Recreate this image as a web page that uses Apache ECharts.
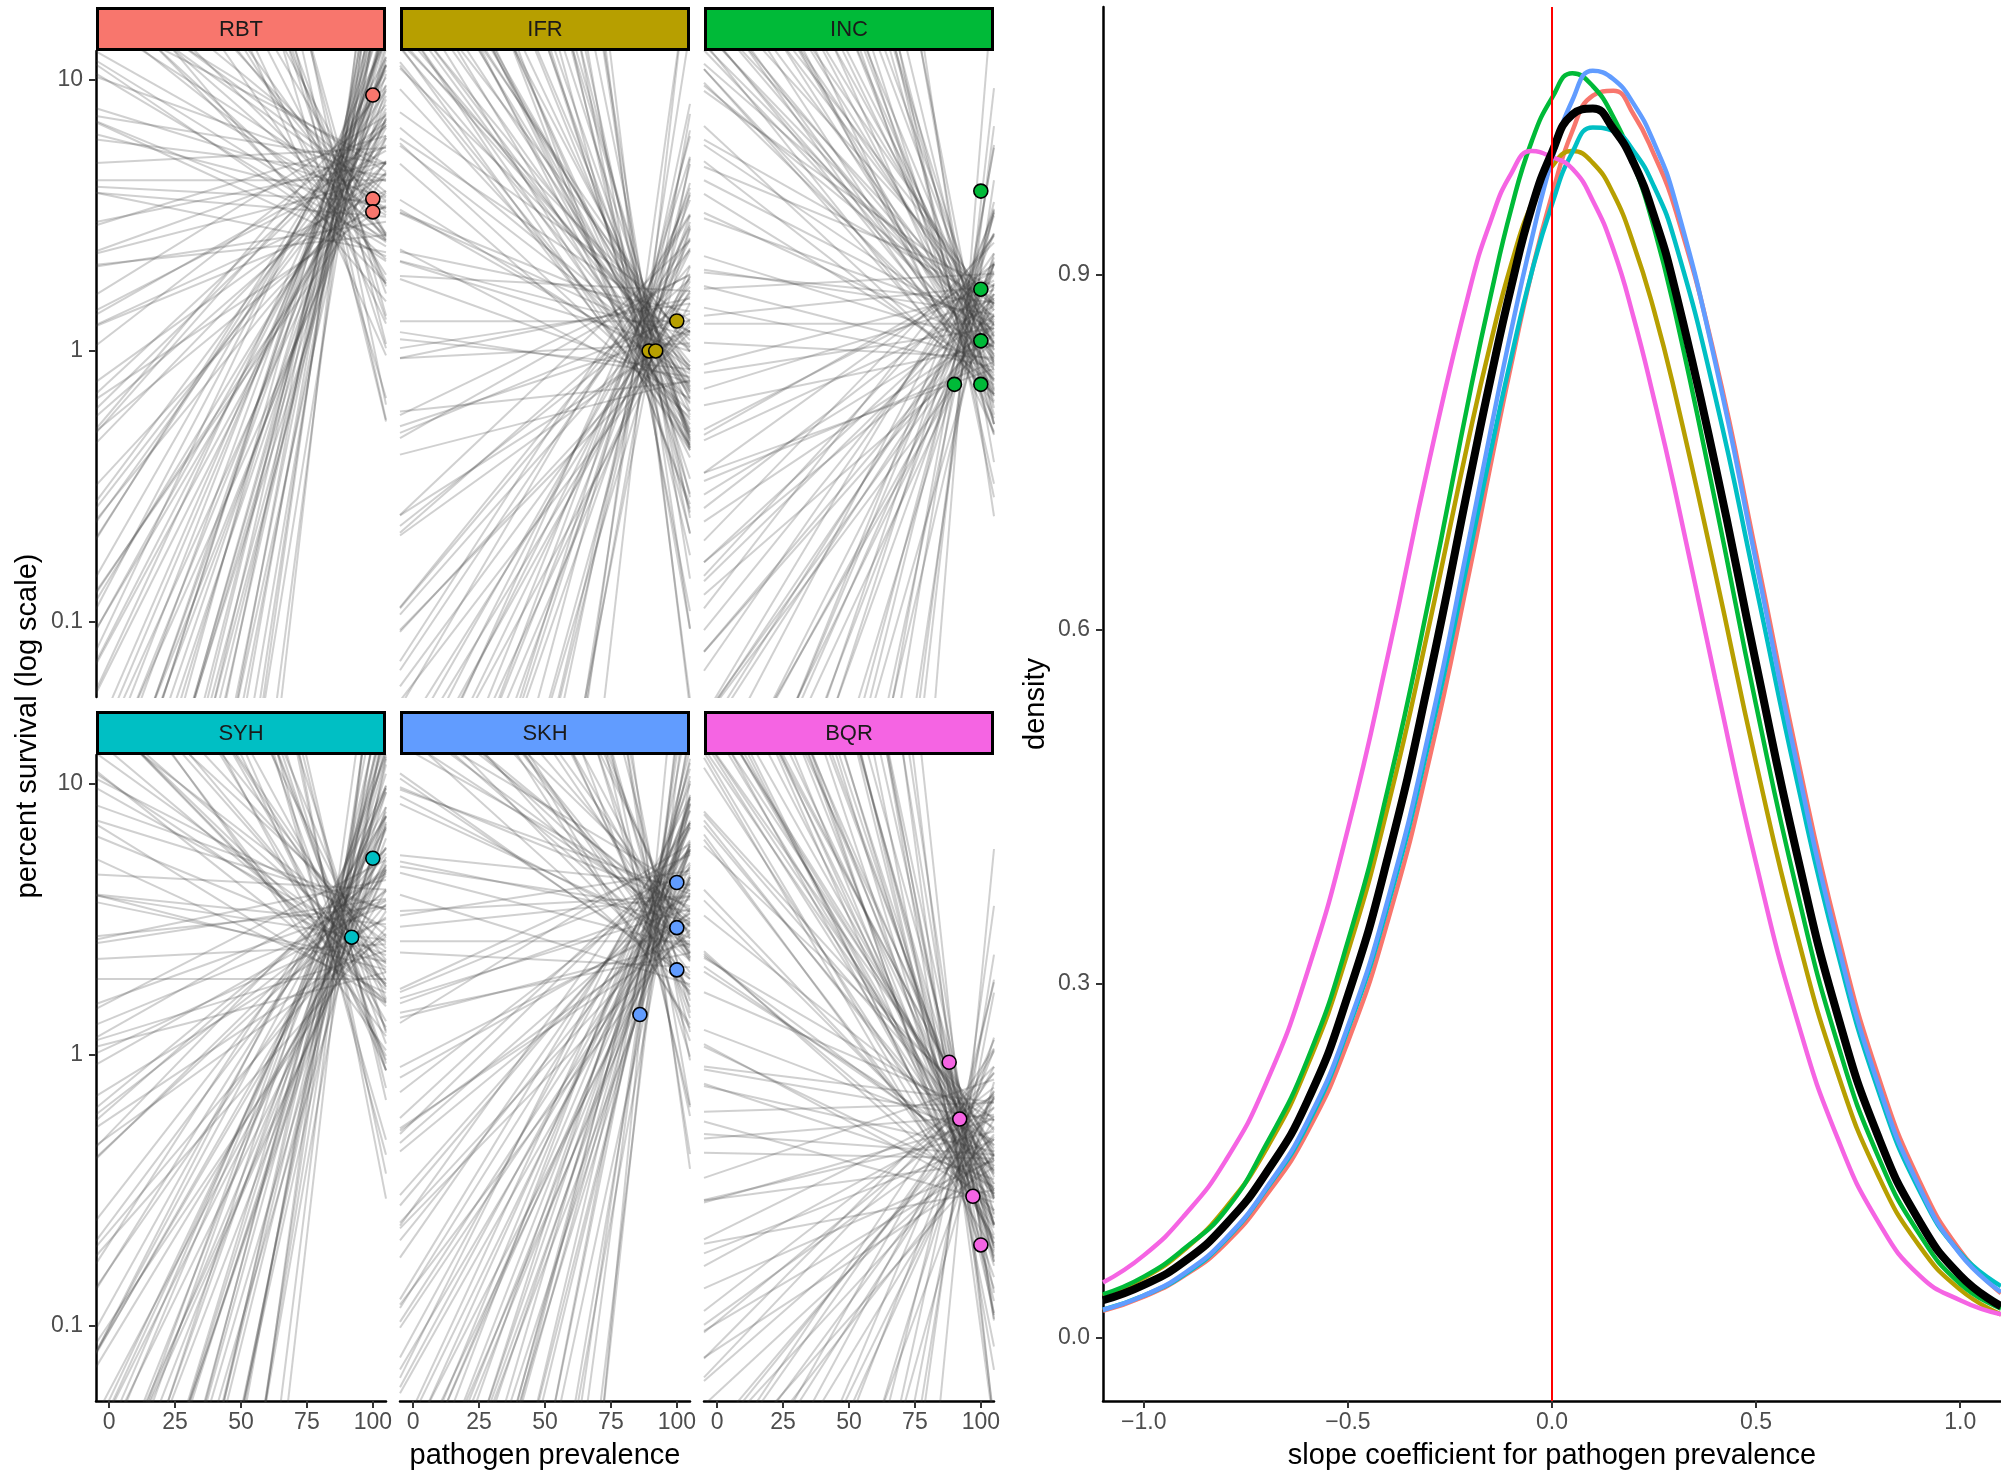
<!DOCTYPE html>
<html><head><meta charset="utf-8">
<script src="https://cdn.jsdelivr.net/npm/echarts@6/dist/echarts.min.js"></script>
<style>html,body{margin:0;padding:0;background:#fff}#c{width:2001px;height:1474px}</style>
</head><body><div id="c"></div>
<script>
// ---------------- data ----------------
const facetNames = ['RBT','IFR','INC','SYH','SKH','BQR'];
const facetColors = ['#F8766D','#B79F00','#00BA38','#00BFC4','#619CFF','#F564E3'];
const prevTicks = [0,25,50,75,100];
const survTicks = [0.1,1,10];
const slopeTicks = [-1,-0.5,0,0.5,1];
const densTicks = [0,0.3,0.6,0.9];

// prevalence at which each facet's posterior lines converge
const lineCenters = [87, 88, 95, 87, 92, 93];

// posterior regression lines: slope (log10 survival per 100 % prevalence) and level (log10 survival at the centre)
const rbtSlope = [-4.6,-4.0,-3.5,-3.0,-2.6,-2.2,-1.9,-1.65,-1.4,-1.2,-1.0,-0.85,-0.72,-0.6,
 -0.5,-0.4,-0.3,-0.2,-0.12,-0.05,0.05,0.15,0.25,0.35,0.45,0.55,0.65,0.75,0.85,0.95,1.05,1.15,1.25,1.35,1.45,1.55,1.65,1.75,1.85,1.95,
 2.1,2.2,2.3,2.4,2.5,2.6,2.7,2.8,2.9,3.0,3.1,3.2,3.35,3.5,3.65,3.8,4.0,4.2,4.5,4.8,5.2,5.7,6.4,7.5,
 -4.3,-3.8,-3.3,-2.8,-2.4,-2.05,-1.78,-1.55,-1.35,-1.15,-1.05,-0.95,-0.9,-0.8,-0.77,-0.7,-0.66,-0.63,-0.6,-0.58,
 -0.55,-0.45,-0.35,-0.25,-0.16,-0.08,0.0,0.1,0.2,0.3,0.4,0.5,0.6,0.7,0.8,0.9,1.0,1.1,1.2,1.3,1.4,1.5,1.6,1.7,1.8,1.9,
 2.05,2.15,2.25,2.45,2.65,2.85,3.05,3.25,3.45,3.7,3.95,4.3,4.7,5.0,5.5,6.0,6.8,8.5];
const rbtLevel = [0.63,0.46,0.76,0.55,0.68,0.38,0.60,0.72,0.50,0.65,0.43,0.58,0.70,0.52,0.78,0.48,
 0.62,0.40,0.67,0.56,0.74,0.45,0.59,0.69,0.51,0.64,0.42,0.71,0.54,0.66,0.47,0.77,
 0.57,0.61,0.44,0.73,0.49,0.58,0.75,0.53,0.68,0.39,0.64,0.55,0.70,0.46,0.60,0.67,
 0.50,0.72,0.41,0.63,0.56,0.76,0.48,0.65,0.52,0.69,0.43,0.59,0.71,0.54,0.62,0.47,
 0.52,0.71,0.42,0.62,0.67,0.47,0.75,0.56,0.65,0.39,0.70,0.59,0.50,0.73,0.54,0.68,
 0.45,0.64,0.77,0.49,0.60,0.43,0.69,0.57,0.72,0.51,0.63,0.41,0.66,0.74,0.46,0.61,
 0.76,0.53,0.44,0.67,0.58,0.71,0.48,0.64,0.40,0.69,0.55,0.73,0.50,0.60,0.78,0.47,
 0.65,0.42,0.70,0.54,0.75,0.49,0.61,0.45,0.68,0.57,0.72,0.52,0.63,0.39,0.66,0.56];

const ifrSlope = [-8.0,-6.5,-5.5,-4.8,-4.2,-3.8,-3.4,-3.1,-2.8,-2.6,-2.4,-2.2,-2.05,-1.9,-1.8,-1.7,-1.6,-1.52,-1.45,-1.38,-1.32,-1.26,-1.2,-1.15,
 -1.05,-0.95,-0.85,-0.75,-0.65,-0.55,-0.45,-0.35,-0.25,-0.15,-0.05,0.05,0.15,0.25,0.4,0.55,0.7,0.85,1.0,1.1,1.2,1.32,
 1.5,1.6,1.7,1.8,1.9,2.0,2.15,2.3,2.45,2.6,2.8,3.0,3.3,3.6,4.0,4.6,5.5,7.0,
 -7.5,-6.0,-5.0,-4.5,-4.0,-3.6,-3.25,-2.95,-2.7,-2.5,-2.3,-2.12,-1.98,-1.85,-1.75,-1.65,-1.56,-1.48,-1.42,-1.36,-1.3,-1.24,-1.19,-1.16,-3.0,-2.0,-1.6,-1.34,
 -1.1,-1.0,-0.9,-0.8,-0.7,-0.6,-0.5,-0.4,-0.3,-0.2,-0.1,0.0,0.1,0.2,0.32,0.47,0.62,0.77,0.92,1.05,1.15,1.27,
 1.45,1.55,1.65,1.75,1.95,2.1,2.4,2.7,3.1,3.5,4.2,5.0,6.2,8.5];
const ifrLevel = [0.04,0.08,-0.09,0.20,-0.04,0.05,0.22,0.00,0.15,-0.14,0.11,0.02,0.17,-0.07,0.07,0.14,
 -0.03,0.19,-0.12,0.10,0.03,0.23,-0.05,0.12,-0.01,0.16,-0.10,0.06,0.18,0.01,0.09,-0.06,
 0.10,-0.07,0.23,0.02,0.15,-0.15,0.07,0.19,-0.03,0.12,-0.10,0.05,0.17,-0.01,0.25,-0.05,
 0.09,-0.13,0.14,0.03,0.21,-0.08,0.06,0.16,-0.02,0.11,-0.11,0.18,0.01,0.13,-0.06,0.24,
 -0.01,0.18,-0.11,0.09,0.14,-0.06,0.22,0.03,0.12,-0.14,0.17,0.06,-0.03,0.20,0.01,0.15,
 -0.08,0.11,0.24,-0.04,0.07,-0.10,0.16,0.04,0.19,-0.02,0.10,-0.12,0.13,0.21,-0.07,0.08,
 0.23,0.00,-0.09,0.14,0.05,0.18,-0.05,0.11,-0.13,0.16,0.02,0.20,-0.03,0.07,0.25,-0.06,
 0.12,-0.11,0.17,0.01,0.22,-0.04,0.08,-0.08,0.15,0.04,0.19,-0.01,0.10,-0.14,0.13,0.03];

const incSlope = [-5.5,-4.6,-4.0,-3.5,-3.1,-2.8,-2.55,-2.35,-2.15,-2.0,-1.88,-1.76,-1.65,-1.56,-1.48,-1.4,-1.33,-1.27,-1.21,-1.16,-1.11,-1.07,-1.04,-1.01,
 -0.95,-0.85,-0.75,-0.65,-0.55,-0.45,-0.35,-0.25,-0.15,-0.05,0.05,0.15,0.25,0.35,0.45,0.55,0.65,0.75,0.85,0.95,1.05,1.15,1.25,1.35,
 1.45,1.55,1.7,1.85,2.0,2.2,2.4,2.7,3.0,3.4,3.9,4.5,5.3,6.5,8.5,12.0,
 -6.5,-5.0,-4.3,-3.75,-3.3,-2.95,-2.68,-2.45,-2.25,-2.08,-1.94,-1.82,-1.7,-1.6,-1.52,-1.44,-1.37,-1.3,-1.24,-1.19,-1.14,-1.09,-1.05,-1.02,-2.6,-3.0,
 -0.98,-0.9,-0.8,-0.7,-0.6,-0.5,-0.4,-0.3,-0.2,-0.1,0.0,0.1,0.2,0.3,0.4,0.5,0.6,0.7,0.8,0.9,1.0,1.1,1.2,1.3,
 1.4,1.5,1.62,1.78,1.92,2.1,2.3,2.55,2.85,3.2,3.65,4.2,5.8,7.5];
const incLevel = [0.14,-0.08,0.19,0.08,0.26,-0.03,0.11,0.21,0.03,0.16,-0.06,0.23,0.06,0.18,-0.01,0.29,
 0.02,0.24,-0.07,0.15,0.08,0.28,0.00,0.17,0.04,0.21,-0.05,0.11,0.23,0.06,0.14,-0.01,
 0.15,-0.02,0.28,0.07,0.20,-0.10,0.12,0.24,0.02,0.17,-0.05,0.10,0.22,0.04,0.30,0.00,
 0.09,0.13,-0.04,0.25,0.01,0.10,0.27,0.05,0.20,-0.09,0.16,0.07,0.22,-0.02,0.12,0.19,
 0.04,0.23,-0.06,0.14,0.19,-0.01,0.27,0.08,0.17,-0.09,0.22,0.11,0.02,0.25,0.06,0.20,
 -0.03,0.16,0.29,0.01,0.12,-0.05,0.21,0.09,0.24,0.03,0.15,-0.07,0.18,0.26,-0.02,0.13,
 0.28,0.05,-0.04,0.19,0.10,0.23,0.00,0.16,-0.08,0.21,0.07,0.25,0.02,0.12,0.30,-0.01,
 0.17,-0.06,0.22,0.06,0.27,0.01,0.13,-0.03,0.20,0.09,0.24,0.04,0.15,-0.09,0.18,0.08];

const syhSlope = [-5.0,-4.2,-3.6,-3.1,-2.7,-2.35,-2.05,-1.8,-1.6,-1.42,-1.28,-1.15,-1.04,-0.94,-0.85,-0.77,
 -0.65,-0.55,-0.45,-0.35,-0.25,-0.15,-0.05,0.05,0.15,0.25,0.35,0.45,0.55,0.65,0.75,0.85,0.95,1.1,1.25,1.4,1.5,1.6,1.7,1.8,
 1.95,2.05,2.15,2.25,2.35,2.45,2.55,2.65,2.75,2.85,2.95,3.05,3.2,3.35,3.5,3.7,3.9,4.1,4.4,4.8,5.3,6.0,7.0,8.5,
 -4.6,-3.9,-3.35,-2.9,-2.5,-2.2,-1.92,-1.7,-1.5,-1.35,-1.22,-1.1,-0.99,-0.9,-0.82,-0.75,-1.8,-2.6,-3.1,-1.0,
 -0.7,-0.6,-0.5,-0.4,-0.3,-0.2,-0.1,0.0,0.1,0.2,0.3,0.4,0.5,0.6,0.7,0.8,0.9,1.0,1.15,1.3,1.45,1.55,1.65,1.75,1.85,0.55,
 1.9,2.0,2.1,2.2,2.3,2.5,2.7,2.9,3.1,3.3,3.6,3.95,4.3,4.6,5.0,5.6,6.5,7.8];
const syhLevel = [0.37,0.59,0.28,0.50,0.43,0.63,0.35,0.52,0.39,0.56,0.30,0.46,0.58,0.41,0.49,0.34,
 0.44,0.48,0.31,0.60,0.36,0.45,0.62,0.40,0.55,0.26,0.51,0.42,0.57,0.33,0.47,0.54,
 0.49,0.27,0.54,0.43,0.61,0.32,0.46,0.56,0.38,0.51,0.29,0.58,0.41,0.53,0.34,0.64,
 0.50,0.33,0.63,0.42,0.55,0.25,0.47,0.59,0.37,0.52,0.30,0.45,0.57,0.39,0.65,0.35,
 0.39,0.58,0.29,0.49,0.54,0.34,0.62,0.43,0.52,0.26,0.57,0.46,0.37,0.60,0.41,0.55,
 0.32,0.51,0.64,0.36,0.47,0.30,0.56,0.44,0.59,0.38,0.50,0.28,0.53,0.61,0.33,0.48,
 0.63,0.40,0.31,0.54,0.45,0.58,0.35,0.51,0.27,0.56,0.42,0.60,0.37,0.47,0.65,0.34,
 0.52,0.29,0.57,0.41,0.62,0.36,0.48,0.32,0.55,0.44,0.59,0.39,0.50,0.26,0.53,0.43];

const skhSlope = [-7.0,-5.5,-4.5,-3.8,-3.2,-2.8,-2.4,-2.1,-1.85,-1.62,-1.43,-1.27,-1.13,-1.0,-0.9,-0.8,-0.72,-0.66,
 -0.58,-0.5,-0.4,-0.3,-0.2,-0.1,0.0,0.1,0.2,0.3,0.4,0.5,0.6,0.7,0.8,0.9,1.0,1.1,1.2,1.35,1.45,1.55,1.65,1.78,
 1.9,2.0,2.1,2.2,2.3,2.4,2.5,2.6,2.75,2.9,3.05,3.2,3.4,3.6,3.85,4.1,4.5,5.0,5.7,6.6,8.0,10.0,
 -6.2,-5.0,-4.1,-3.5,-3.0,-2.6,-2.25,-1.97,-1.73,-1.52,-1.35,-1.2,-1.07,-0.95,-0.85,-0.76,-0.69,-0.64,-2.0,-1.45,-1.1,-0.88,
 -0.55,-0.45,-0.35,-0.25,-0.15,-0.05,0.05,0.15,0.25,0.35,0.45,0.55,0.65,0.75,0.85,0.95,1.05,1.15,1.28,1.4,1.5,1.6,1.72,1.8,
 1.95,2.05,2.15,2.25,2.35,2.45,2.55,2.7,2.85,3.0,3.3,3.5,3.75,4.0,4.8,5.4,7.2,9.0];
const skhLevel = [0.49,0.53,0.36,0.65,0.41,0.50,0.67,0.45,0.60,0.31,0.56,0.47,0.62,0.38,0.52,0.59,
 0.55,0.38,0.68,0.47,0.60,0.30,0.52,0.64,0.42,0.57,0.35,0.50,0.62,0.44,0.70,0.40,
 0.42,0.64,0.33,0.55,0.48,0.68,0.40,0.57,0.44,0.61,0.35,0.51,0.63,0.46,0.54,0.39,
 0.54,0.32,0.59,0.48,0.66,0.37,0.51,0.61,0.43,0.56,0.34,0.63,0.46,0.58,0.39,0.69,
 0.44,0.63,0.34,0.54,0.59,0.39,0.67,0.48,0.57,0.31,0.62,0.51,0.42,0.65,0.46,0.60,
 0.37,0.56,0.69,0.41,0.52,0.35,0.61,0.49,0.64,0.43,0.55,0.33,0.58,0.66,0.38,0.53,
 0.68,0.45,0.36,0.59,0.50,0.63,0.40,0.56,0.32,0.61,0.47,0.65,0.42,0.52,0.70,0.39,
 0.57,0.34,0.62,0.46,0.67,0.41,0.53,0.37,0.60,0.49,0.64,0.44,0.55,0.31,0.58,0.48];

const bqrSlope = [-9.0,-7.2,-6.0,-5.2,-4.6,-4.1,-3.7,-3.4,-3.15,-2.95,-2.75,-2.6,-2.45,-2.32,-2.2,-2.1,-2.0,-1.92,-1.85,-1.78,-1.72,-1.66,-1.6,-1.55,-1.5,
 -1.42,-1.32,-1.22,-1.12,-1.02,-0.92,-0.82,-0.72,-0.62,-0.52,-0.42,-0.32,-0.22,-0.12,-0.02,0.08,0.18,0.28,0.38,0.48,0.58,0.7,0.8,0.9,
 1.02,1.1,1.2,1.32,1.45,1.6,1.8,2.0,2.3,2.7,3.2,3.9,5.0,7.0,10.0,
 -8.0,-6.5,-5.6,-4.9,-4.35,-3.9,-3.55,-3.27,-3.05,-2.85,-2.67,-2.52,-2.38,-2.26,-2.15,-2.05,-1.96,-1.88,-1.81,-1.75,-1.69,-1.63,-1.58,-1.53,-1.49,-2.9,-3.6,-4.8,
 -1.45,-1.37,-1.27,-1.17,-1.07,-0.97,-0.87,-0.77,-0.67,-0.57,-0.47,-0.37,-0.27,-0.17,-0.07,0.03,0.13,0.23,0.33,0.43,0.53,0.64,0.75,0.85,
 0.98,1.06,1.15,1.26,1.38,1.52,1.7,2.15,2.5,3.5,4.4,6.0];
const bqrLevel = [-0.29,-0.51,-0.24,-0.35,-0.17,-0.46,-0.32,-0.22,-0.40,-0.27,-0.49,-0.20,-0.37,-0.25,-0.44,-0.14,
 -0.28,-0.45,-0.15,-0.36,-0.23,-0.53,-0.31,-0.19,-0.41,-0.26,-0.48,-0.33,-0.21,-0.39,-0.13,-0.43,
 -0.34,-0.30,-0.47,-0.18,-0.42,-0.33,-0.16,-0.38,-0.23,-0.52,-0.27,-0.36,-0.21,-0.45,-0.31,-0.24,
 -0.41,-0.19,-0.50,-0.28,-0.35,-0.15,-0.43,-0.26,-0.39,-0.22,-0.48,-0.32,-0.20,-0.37,-0.29,-0.44,
 -0.39,-0.20,-0.49,-0.29,-0.24,-0.44,-0.16,-0.35,-0.26,-0.52,-0.21,-0.32,-0.41,-0.18,-0.37,-0.23,
 -0.46,-0.27,-0.14,-0.42,-0.31,-0.48,-0.22,-0.34,-0.19,-0.40,-0.28,-0.50,-0.25,-0.17,-0.45,-0.30,
 -0.15,-0.38,-0.47,-0.24,-0.33,-0.20,-0.43,-0.27,-0.51,-0.22,-0.36,-0.18,-0.41,-0.31,-0.13,-0.44,
 -0.26,-0.49,-0.21,-0.37,-0.16,-0.42,-0.30,-0.46,-0.23,-0.34,-0.19,-0.39,-0.28,-0.52,-0.25,-0.35];

// observed points (pathogen prevalence %, percent survival)
const rbtPrev = [100,100,100];       const rbtSurv = [8.8,3.64,3.26];
const ifrPrev = [89.5,92,100];        const ifrSurv = [1.0,1.0,1.29];
const incPrev = [100,100,100,90,100]; const incSurv = [3.89,1.69,1.09,0.753,0.753];
const syhPrev = [100,92];             const syhSurv = [5.32,2.72];
const skhPrev = [100,100,100,86];     const skhSurv = [4.33,2.95,2.06,1.41];
const bqrPrev = [88,92,97,100];       const bqrSurv = [0.94,0.58,0.301,0.199];

// density of slope coefficient
const densX   = [-1.1,-1.0,-0.9,-0.8,-0.7,-0.6,-0.5,-0.4,-0.3,-0.2,-0.15,-0.1,-0.05,0,0.05,0.1,0.15,0.2,0.25,0.3,0.4,0.5,0.6,0.7,0.8,0.9,1.0,1.1];
const rbtDens = [0.023,0.035,0.053,0.080,0.121,0.174,0.251,0.356,0.491,0.653,0.740,0.824,0.902,0.968,1.022,1.052,1.056,1.036,1.002,0.958,0.829,0.664,0.494,0.342,0.221,0.133,0.074,0.038];
const ifrDens = [0.036,0.051,0.075,0.110,0.160,0.230,0.327,0.453,0.605,0.768,0.843,0.909,0.960,0.992,1.005,0.995,0.969,0.926,0.870,0.802,0.648,0.487,0.342,0.224,0.137,0.078,0.041,0.020];
const incDens = [0.037,0.052,0.076,0.108,0.164,0.235,0.336,0.468,0.628,0.802,0.883,0.956,1.013,1.050,1.071,1.060,1.034,0.994,0.940,0.871,0.708,0.536,0.379,0.249,0.153,0.088,0.046,0.025];
const syhDens = [0.024,0.036,0.054,0.083,0.126,0.180,0.261,0.369,0.507,0.668,0.751,0.830,0.902,0.960,1.004,1.025,1.022,1.005,0.975,0.930,0.797,0.636,0.472,0.326,0.209,0.125,0.072,0.044];
const skhDens = [0.024,0.036,0.055,0.084,0.127,0.183,0.264,0.374,0.515,0.682,0.769,0.853,0.930,0.998,1.048,1.073,1.066,1.045,1.012,0.965,0.826,0.657,0.486,0.334,0.214,0.128,0.071,0.039];
const bqrDens = [0.047,0.070,0.104,0.150,0.216,0.309,0.431,0.581,0.744,0.890,0.946,0.986,1.005,1.000,0.990,0.963,0.922,0.864,0.795,0.720,0.558,0.402,0.270,0.169,0.098,0.053,0.032,0.020];
const allDens = [0.032,0.045,0.065,0.096,0.140,0.200,0.290,0.410,0.560,0.730,0.813,0.890,0.957,1.004,1.036,1.041,1.024,0.995,0.950,0.890,0.739,0.571,0.410,0.273,0.170,0.099,0.053,0.027];
const refSlope = 0;

// ---------------- build ----------------
const slopes = [rbtSlope, ifrSlope, incSlope, syhSlope, skhSlope, bqrSlope];
const levels = [rbtLevel, ifrLevel, incLevel, syhLevel, skhLevel, bqrLevel];
const prevs = [rbtPrev, ifrPrev, incPrev, syhPrev, skhPrev, bqrPrev];
const survs = [rbtSurv, ifrSurv, incSurv, syhSurv, skhSurv, bqrSurv];
const dens = [rbtDens, ifrDens, incDens, syhDens, skhDens, bqrDens];

const FONT = '"Liberation Sans", Arial, Helvetica, sans-serif';
const colLeft = [96, 400, 704], colW = 290;
const rowTop = [51, 755], rowH = 646;
const stripTop = [7, 711], stripH = 44;
const X_MIN = -5, X_MAX = 105, Y_MIN = -1.277, Y_MAX = 1.107;
const D_XMIN = -1.1, D_XMAX = 1.1, D_YMIN = -0.0533, D_YMAX = 1.127;
const TICK_FS = 23, TITLE_FS = 29, STRIP_FS = 22;

const grids = [], xAxes = [], yAxes = [], series = [], graphics = [];
const survTickLog = survTicks.map(v => Math.log10(v));

for (let f = 0; f < 6; f++) {
  const r = Math.floor(f / 3), c = f % 3;
  grids.push({left: colLeft[c], top: rowTop[r], width: colW, height: rowH});
  xAxes.push({
    type: 'value', gridIndex: f, min: X_MIN, max: X_MAX,
    axisLine: {show: r === 1, onZero: false, lineStyle: {color: '#000', width: 2.5}},
    axisTick: {show: r === 1, customValues: prevTicks, length: 7, lineStyle: {color: '#333', width: 2}},
    axisLabel: {show: r === 1, customValues: prevTicks, margin: 10, fontSize: TICK_FS, color: '#4D4D4D', fontFamily: FONT},
    splitLine: {show: false}
  });
  yAxes.push({
    type: 'value', gridIndex: f, min: Y_MIN, max: Y_MAX,
    axisLine: {show: c === 0, onZero: false, lineStyle: {color: '#000', width: 2.5}},
    axisTick: {show: c === 0, customValues: survTickLog, length: 7, lineStyle: {color: '#333', width: 2}},
    axisLabel: {show: c === 0, customValues: survTickLog, margin: 13, fontSize: TICK_FS, color: '#4D4D4D', fontFamily: FONT,
      formatter: v => { const t = survTicks.find(s => Math.abs(Math.log10(s) - v) < 1e-6); return t === undefined ? '' : String(t); }},
    splitLine: {show: false}
  });
  const sl = slopes[f], lv = levels[f], c0 = lineCenters[f];
  const n = Math.min(sl.length, lv.length);
  for (let i = 0; i < n; i++) {
    series.push({
      type: 'line', xAxisIndex: f, yAxisIndex: f, silent: true, animation: false,
      symbol: 'none', clip: true, z: 1,
      lineStyle: {color: '#3a3a3a', width: 2, opacity: 0.24},
      data: [[X_MIN, lv[i] + sl[i] * (X_MIN - c0) / 100], [X_MAX, lv[i] + sl[i] * (X_MAX - c0) / 100]]
    });
  }
  series.push({
    type: 'scatter', xAxisIndex: f, yAxisIndex: f, silent: true, animation: false, z: 5,
    symbolSize: 14,
    itemStyle: {color: facetColors[f], borderColor: '#000', borderWidth: 1.6, opacity: 1},
    data: prevs[f].map((p, k) => [p, Math.log10(survs[f][k])])
  });
  const sx = colLeft[c], sy = stripTop[r];
  graphics.push({type: 'rect', shape: {x: sx + 1.5, y: sy + 1.5, width: colW - 3, height: stripH - 3},
    style: {fill: facetColors[f], stroke: '#000', lineWidth: 3}, z: 10});
  graphics.push({type: 'text', x: sx + colW / 2, y: sy + stripH / 2 + 1, z: 11,
    style: {text: facetNames[f], font: STRIP_FS + 'px ' + FONT, fill: '#1A1A1A', textAlign: 'center', textVerticalAlign: 'middle', align: 'center', verticalAlign: 'middle'}});
}

// density panel
const dg = 6;
grids.push({left: 1103, top: 7, width: 898, height: 1394});
xAxes.push({
  type: 'value', gridIndex: dg, min: D_XMIN, max: D_XMAX,
  axisLine: {show: true, onZero: false, lineStyle: {color: '#000', width: 2.5}},
  axisTick: {show: true, customValues: slopeTicks, length: 7, lineStyle: {color: '#333', width: 2}},
  axisLabel: {show: true, customValues: slopeTicks, margin: 10, fontSize: TICK_FS, color: '#4D4D4D', fontFamily: FONT,
    formatter: v => (v < 0 ? '\u2212' : '') + Math.abs(v).toFixed(1)},
  splitLine: {show: false}
});
yAxes.push({
  type: 'value', gridIndex: dg, min: D_YMIN, max: D_YMAX,
  axisLine: {show: true, onZero: false, lineStyle: {color: '#000', width: 2.5}},
  axisTick: {show: true, customValues: densTicks, length: 7, lineStyle: {color: '#333', width: 2}},
  axisLabel: {show: true, customValues: densTicks, margin: 13, fontSize: TICK_FS, color: '#4D4D4D', fontFamily: FONT,
    formatter: v => v.toFixed(1)},
  splitLine: {show: false}
});
for (let f = 0; f < 6; f++) {
  series.push({
    type: 'line', xAxisIndex: dg, yAxisIndex: dg, silent: true, animation: false, z: 2,
    symbol: 'none', smooth: true, clip: true,
    lineStyle: {color: facetColors[f], width: 4.5},
    data: densX.map((x, k) => [x, dens[f][k]])
  });
}
series.push({
  type: 'line', xAxisIndex: dg, yAxisIndex: dg, silent: true, animation: false, z: 3,
  symbol: 'none', smooth: true, clip: true,
  lineStyle: {color: '#000', width: 8},
  data: densX.map((x, k) => [x, allDens[k]])
});
series.push({
  type: 'line', xAxisIndex: dg, yAxisIndex: dg, silent: true, animation: false, z: 4,
  symbol: 'none', clip: true,
  lineStyle: {color: '#FF0000', width: 2},
  data: [[refSlope, D_YMIN], [refSlope, D_YMAX]]
});

function title(text, x, y, rot) {
  return {type: 'text', x: x, y: y, rotation: rot || 0, z: 11,
    style: {text: text, font: TITLE_FS + 'px ' + FONT, fill: '#000', textAlign: 'center', textVerticalAlign: 'middle', align: 'center', verticalAlign: 'middle'}};
}
graphics.push(title('pathogen prevalence', 545, 1456));
graphics.push(title('slope coefficient for pathogen prevalence', 1552, 1456));
graphics.push(title('percent survival (log scale)', 28, 726, Math.PI / 2));
graphics.push(title('density', 1036, 704, Math.PI / 2));

const chart = echarts.init(document.getElementById('c'), null, {renderer: 'canvas'});
chart.setOption({
  animation: false,
  backgroundColor: '#fff',
  grid: grids, xAxis: xAxes, yAxis: yAxes, series: series, graphic: graphics
});
</script></body></html>
